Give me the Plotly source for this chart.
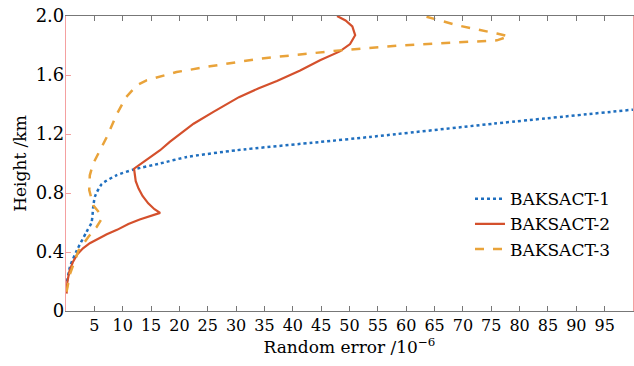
import plotly.graph_objects as go

# BAKSACT-1 (dotted blue)
err1 = [0.0, 0.7, 1.9, 3.6, 4.5, 4.8, 5.1, 6.3, 8.9, 12.0, 16.6, 21.3, 30.1, 44.8, 53.6, 75.4, 100.0]
h1 = [0.16, 0.30, 0.41, 0.535, 0.60, 0.705, 0.775, 0.86, 0.92, 0.96, 1.0, 1.044, 1.09, 1.146, 1.18, 1.27, 1.365]

# BAKSACT-2 (solid red)
err2 = [0.1, 0.25, 0.6, 1.2, 2.0, 3.0, 4.2, 5.6, 7.2, 9.0, 11.0, 13.0, 15.0, 16.6,
        15.6, 14.5, 13.5, 12.8, 12.3, 12.1, 12.0,
        14.0, 16.6, 18.3, 20.4, 22.5, 26.0, 30.5, 34.0, 37.2, 41.3, 44.8, 48.3, 50.1, 51.0, 50.5, 49.3, 47.8]
h2 = [0.118, 0.20, 0.27, 0.33, 0.385, 0.425, 0.46, 0.49, 0.52, 0.55, 0.59, 0.62, 0.645, 0.665,
      0.69, 0.73, 0.78, 0.83, 0.88, 0.93, 0.965,
      1.02, 1.09, 1.146, 1.21, 1.27, 1.35, 1.45, 1.51, 1.56, 1.63, 1.70, 1.76, 1.81, 1.87, 1.93, 1.97, 2.0]

# BAKSACT-3 (dashed orange)
err3 = [0.1, 0.7, 2.2, 3.9, 5.4, 6.3, 6.0, 4.8, 4.1, 4.2, 4.8, 5.4, 7.2, 9.0, 10.6, 12.5, 14.2, 19.5, 25.4, 34.2, 44.8, 48.3, 58.9, 70.1, 76.0, 78.1, 76.0, 69.0, 63.1]
h3 = [0.13, 0.25, 0.41, 0.50, 0.57, 0.626, 0.66, 0.717, 0.82, 0.92, 1.0, 1.044, 1.18, 1.338, 1.45, 1.53, 1.564, 1.62, 1.659, 1.711, 1.756, 1.767, 1.80, 1.824, 1.835, 1.862, 1.881, 1.937, 2.0]

names = ["BAKSACT-1", "BAKSACT-2", "BAKSACT-3"]
x_ticks = [5, 10, 15, 20, 25, 30, 35, 40, 45, 50, 55, 60, 65, 70, 75, 80, 85, 90, 95]
y_ticks = [0, 0.4, 0.8, 1.2, 1.6, 2.0]
y_ticktext = ["0", "0.4", "0.8", "1.2", "1.6", "2.0"]

FONT = "DejaVu Serif"

fig = go.Figure()
fig.add_trace(go.Scatter(x=err1, y=h1, mode="lines", name=names[0],
                         line=dict(color="#1f6fbf", width=2.5, dash="dot", shape="spline", smoothing=0.6)))
fig.add_trace(go.Scatter(x=err2, y=h2, mode="lines", name=names[1],
                         line=dict(color="#d4502c", width=2.2)))
fig.add_trace(go.Scatter(x=err3, y=h3, mode="lines", name=names[2],
                         line=dict(color="#e9a33a", width=2.5, dash="dash")))

fig.update_layout(
    width=634, height=366,
    margin=dict(l=66, r=1, t=16, b=55),
    paper_bgcolor="white", plot_bgcolor="white",
    font=dict(family=FONT, size=16, color="#000"),
    showlegend=True,
    legend=dict(x=0.7125, y=0.44, xanchor="left", yanchor="top",
                bgcolor="rgba(0,0,0,0)", font=dict(family=FONT, size=17, color="#000"),
                tracegroupgap=0),
)
fig.update_xaxes(
    range=[0, 100], tickvals=x_ticks, ticks="inside", ticklen=5, tickcolor="#777",
    showline=True, linecolor="#777", linewidth=1.2, mirror="ticks",
    showgrid=False, zeroline=False,
    tickfont=dict(family=FONT, size=16, color="#000"),
    title=dict(text="Random error /10<sup>−6</sup>", font=dict(family=FONT, size=17, color="#000"), standoff=2),
)
fig.update_yaxes(
    range=[0, 2.0], tickvals=y_ticks, ticktext=y_ticktext, ticks="inside", ticklen=5, tickcolor="#f4a0a0",
    showline=True, linecolor="#f4a0a0", linewidth=1.2, mirror=True,
    showgrid=False, zeroline=False, ticklabelstandoff=-3,
    tickfont=dict(family=FONT, size=18, color="#000"),
    title=dict(text="Height /km", font=dict(family=FONT, size=17, color="#000"), standoff=4),
)

fig.write_html("out.html")
